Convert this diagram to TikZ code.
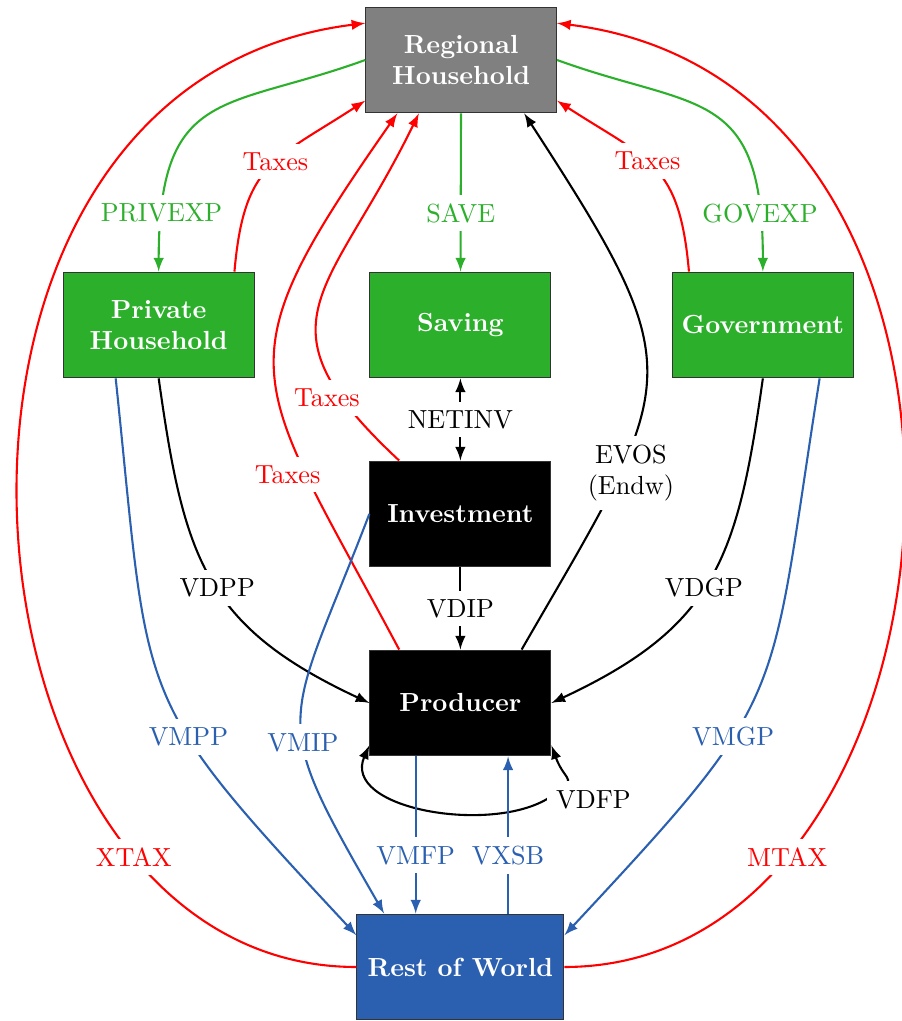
\documentclass[tikz,border=0pt]{standalone}
\usepackage{xcolor}
\definecolor{flowgreen}{RGB}{44,176,44}
\definecolor{flowblue}{RGB}{43,96,176}

\begin{document}
\begin{tikzpicture}[
    >=latex,
    thick,
    box/.style={draw=black!80, thin, minimum width=2.43cm, minimum height=1.42cm,
        align=center, text=white, font=\bfseries},
    greenbox/.style={box, fill=flowgreen},
    blackbox/.style={box, fill=black},
    lbl/.style={fill=white},
    gflow/.style={->, flowgreen},
    rflow/.style={->, red},
    bflow/.style={->, flowblue},
    kflow/.style={->, black}]

    \useasboundingbox (0,0) rectangle (12.107,-13.705);

    % Boxes
    \node[box, fill=gray, minimum width=2.56cm] (rh_box) at (6.19,-0.805) {Regional\\Household};
    \node[greenbox, minimum width=2.56cm] (priv_box) at (2.13,-4.362) {Private\\Household};
    \node[greenbox] (sav_box) at (6.18,-4.362) {Saving};
    \node[greenbox] (gov_box) at (10.24,-4.362) {Government};
    \node[blackbox] (inv_box) at (6.18,-6.899) {Investment};
    \node[blackbox] (prod_box) at (6.18,-9.436) {Producer};
    \node[box, fill=flowblue, minimum width=2.78cm] (row_box) at (6.18,-12.98) {Rest of World};

    % Income use
    \draw[gflow] (rh_box.west) to[out=200, in=90, out distance=2cm, in distance=2.5cm]
        node[lbl, pos=0.88] {PRIVEXP} (priv_box.north);
    \draw[gflow] (rh_box) -- node[lbl, pos=0.63] {SAVE} (sav_box);
    \draw[gflow] (rh_box.east) to[out=-20, in=90, out distance=2cm, in distance=2.5cm]
        node[lbl, pos=0.88] {GOVEXP} (gov_box.north);

    % Taxes
    \draw[rflow] ([xshift=-0.27cm]priv_box.north east) to[out=85, in=213, looseness=1.3]
        node[lbl, pos=0.55] {Taxes} (rh_box.203);
    \draw[rflow] ([xshift=0.23cm]gov_box.north west) to[out=95, in=327, looseness=1.3]
        node[lbl, pos=0.55] {Taxes} (rh_box.-23);
    \draw[rflow] ([xshift=0.4cm]prod_box.north west) to[out=118, in=235, looseness=1.5]
        node[lbl, pos=0.27, xshift=-0.25cm] {Taxes} ([xshift=0.43cm]rh_box.south west);
    \draw[rflow] ([xshift=0.4cm]inv_box.north west) to[out=137, in=244, looseness=1.5]
        node[lbl, pos=0.17, xshift=-0.2cm] {Taxes} ([xshift=0.72cm]rh_box.south west);
    \draw[rflow] (row_box.west) to[out=180, in=187, out distance=5.6cm, in distance=6.7cm]
        node[lbl, pos=0.22] {XTAX} (rh_box.159);
    \draw[rflow] (row_box.east) to[out=0, in=-7, out distance=5.6cm, in distance=6.7cm]
        node[lbl, pos=0.22] {MTAX} (rh_box.21);

    % Endowments
    \draw[kflow] ([xshift=-0.4cm]prod_box.north east) to[out=60, in=303, looseness=1.5]
        node[lbl, pos=0.28, xshift=0.15cm, align=center] {EVOS\\(Endw)} ([xshift=-0.44cm]rh_box.south east);

    % Domestic flows
    \draw[<->] (sav_box) -- node[lbl] {NETINV} (inv_box);
    \draw[kflow] (inv_box) -- node[lbl] {VDIP} (prod_box);
    \draw[kflow] (priv_box.south) to[out=-82, in=155, looseness=1.2]
        node[lbl, pos=0.53] {VDPP} (prod_box.west);
    \draw[kflow] (gov_box.south) to[out=-98, in=25, looseness=1.2]
        node[lbl, pos=0.53] {VDGP} (prod_box.east);
    \draw[<->] (prod_box.-25) to[out=-70, in=34, looseness=2]
        ([shift={(-0.067,-0.577)}]prod_box.south east) node[lbl, anchor=west] {VDFP}
        to[out=210, in=246, looseness=0.95] (prod_box.205);

    % Imports and exports
    \draw[bflow] ([xshift=0.71cm]priv_box.south west) to[out=-84, in=133, looseness=1.4]
        node[lbl, pos=0.62] {VMPP} (row_box.163);
    \draw[bflow] ([xshift=-0.46cm]gov_box.south east) to[out=-99, in=47, looseness=1.4]
        node[lbl, pos=0.62] {VMGP} (row_box.17);
    \draw[bflow] (inv_box.west) to[out=249, in=120, looseness=1.5]
        node[lbl, pos=0.58] {VMIP} (row_box.145);
    \draw[bflow] ([xshift=-0.6cm]prod_box.south) -- node[lbl, pos=0.63] {VMFP}
        ([xshift=-0.6cm]row_box.north);
    \draw[bflow] ([xshift=0.64cm]row_box.north) -- node[lbl, pos=0.37] {VXSB}
        ([xshift=0.64cm]prod_box.south);

\end{tikzpicture}
\end{document}
